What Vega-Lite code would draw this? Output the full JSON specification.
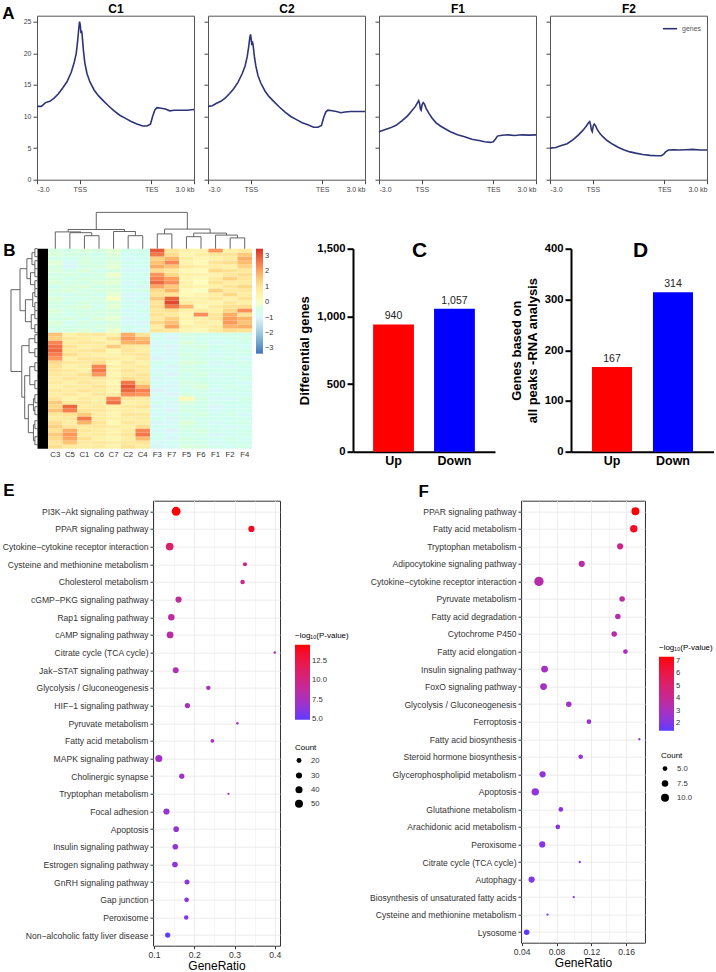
{
"$schema": "https://vega.github.io/schema/vega-lite/v6.json",
"padding": {"left": 0, "top": 1.7, "right": 0, "bottom": 0},
"config": {"font": "Liberation Sans", "view": {"stroke": null}},
"datasets": {
"prof": [
{"s":"C1","x":0,"y":11.6},{"s":"C1","x":3,"y":11.6},{"s":"C1","x":6,"y":12.2},{"s":"C1","x":9,"y":12.4},{"s":"C1","x":12,"y":12.9},{"s":"C1","x":15,"y":13.6},{"s":"C1","x":18,"y":14.5},{"s":"C1","x":21,"y":15.5},{"s":"C1","x":24,"y":17.0},{"s":"C1","x":26,"y":18.5},{"s":"C1","x":27.5,"y":20.0},{"s":"C1","x":28.5,"y":22.0},{"s":"C1","x":29.3,"y":24.0},{"s":"C1","x":29.8,"y":25.0},{"s":"C1","x":30.3,"y":24.5},{"s":"C1","x":30.8,"y":23.2},{"s":"C1","x":31.2,"y":23.6},{"s":"C1","x":31.6,"y":23.0},{"s":"C1","x":32.5,"y":20.5},{"s":"C1","x":33.5,"y":18.5},{"s":"C1","x":35,"y":16.8},{"s":"C1","x":37,"y":15.5},{"s":"C1","x":40,"y":14.2},{"s":"C1","x":43,"y":13.3},{"s":"C1","x":46,"y":12.6},{"s":"C1","x":50,"y":11.7},{"s":"C1","x":54,"y":10.9},{"s":"C1","x":58,"y":10.2},{"s":"C1","x":62,"y":9.7},{"s":"C1","x":66,"y":9.2},{"s":"C1","x":70,"y":8.8},{"s":"C1","x":74,"y":8.5},{"s":"C1","x":77,"y":8.5},{"s":"C1","x":79.5,"y":8.8},{"s":"C1","x":81,"y":10.0},{"s":"C1","x":82.5,"y":11.0},{"s":"C1","x":84,"y":11.4},{"s":"C1","x":87,"y":11.3},{"s":"C1","x":90,"y":11.2},{"s":"C1","x":93,"y":10.9},{"s":"C1","x":96,"y":11.0},{"s":"C1","x":100,"y":11.0},{"s":"C1","x":105,"y":11.0},{"s":"C1","x":110,"y":11.1},
{"s":"C2","x":0,"y":11.6},{"s":"C2","x":3,"y":11.7},{"s":"C2","x":6,"y":12.1},{"s":"C2","x":9,"y":12.4},{"s":"C2","x":12,"y":12.9},{"s":"C2","x":15,"y":13.6},{"s":"C2","x":18,"y":14.4},{"s":"C2","x":21,"y":15.4},{"s":"C2","x":24,"y":16.8},{"s":"C2","x":26,"y":18.0},{"s":"C2","x":27.5,"y":19.5},{"s":"C2","x":28.5,"y":21.0},{"s":"C2","x":29.3,"y":22.5},{"s":"C2","x":29.8,"y":23.0},{"s":"C2","x":30.3,"y":22.2},{"s":"C2","x":30.7,"y":21.3},{"s":"C2","x":31.1,"y":21.9},{"s":"C2","x":31.6,"y":21.3},{"s":"C2","x":32.5,"y":19.5},{"s":"C2","x":33.5,"y":18.0},{"s":"C2","x":35,"y":16.5},{"s":"C2","x":37,"y":15.3},{"s":"C2","x":40,"y":14.0},{"s":"C2","x":43,"y":13.1},{"s":"C2","x":46,"y":12.4},{"s":"C2","x":50,"y":11.5},{"s":"C2","x":54,"y":10.7},{"s":"C2","x":58,"y":10.0},{"s":"C2","x":62,"y":9.5},{"s":"C2","x":66,"y":9.0},{"s":"C2","x":70,"y":8.7},{"s":"C2","x":74,"y":8.3},{"s":"C2","x":77,"y":8.3},{"s":"C2","x":79.5,"y":8.6},{"s":"C2","x":81,"y":9.8},{"s":"C2","x":82.5,"y":10.7},{"s":"C2","x":84,"y":11.0},{"s":"C2","x":87,"y":10.9},{"s":"C2","x":90,"y":10.8},{"s":"C2","x":93,"y":10.6},{"s":"C2","x":96,"y":10.7},{"s":"C2","x":100,"y":10.8},{"s":"C2","x":105,"y":10.8},{"s":"C2","x":110,"y":10.8},
{"s":"F1","x":0,"y":7.6},{"s":"F1","x":4,"y":7.9},{"s":"F1","x":8,"y":8.2},{"s":"F1","x":12,"y":8.6},{"s":"F1","x":16,"y":9.3},{"s":"F1","x":20,"y":10.1},{"s":"F1","x":23,"y":10.9},{"s":"F1","x":25.5,"y":11.6},{"s":"F1","x":27,"y":12.2},{"s":"F1","x":27.8,"y":12.5},{"s":"F1","x":28.5,"y":12.0},{"s":"F1","x":29,"y":11.2},{"s":"F1","x":29.5,"y":11.0},{"s":"F1","x":30.2,"y":11.9},{"s":"F1","x":31,"y":12.2},{"s":"F1","x":31.8,"y":12.0},{"s":"F1","x":33,"y":11.3},{"s":"F1","x":35,"y":10.5},{"s":"F1","x":37,"y":9.8},{"s":"F1","x":40,"y":9.0},{"s":"F1","x":43,"y":8.5},{"s":"F1","x":46,"y":8.1},{"s":"F1","x":50,"y":7.6},{"s":"F1","x":55,"y":7.1},{"s":"F1","x":60,"y":6.8},{"s":"F1","x":65,"y":6.4},{"s":"F1","x":70,"y":6.2},{"s":"F1","x":74,"y":6.0},{"s":"F1","x":78,"y":5.9},{"s":"F1","x":80,"y":6.0},{"s":"F1","x":81.5,"y":6.4},{"s":"F1","x":83,"y":6.9},{"s":"F1","x":85,"y":7.0},{"s":"F1","x":90,"y":7.1},{"s":"F1","x":95,"y":7.0},{"s":"F1","x":100,"y":7.1},{"s":"F1","x":105,"y":7.05},{"s":"F1","x":110,"y":7.1},
{"s":"F2","x":0,"y":5.0},{"s":"F2","x":4,"y":5.1},{"s":"F2","x":8,"y":5.4},{"s":"F2","x":12,"y":5.7},{"s":"F2","x":16,"y":6.3},{"s":"F2","x":20,"y":7.1},{"s":"F2","x":23,"y":7.8},{"s":"F2","x":25.5,"y":8.5},{"s":"F2","x":27,"y":9.0},{"s":"F2","x":27.8,"y":9.2},{"s":"F2","x":28.5,"y":8.6},{"s":"F2","x":29,"y":7.9},{"s":"F2","x":29.6,"y":7.6},{"s":"F2","x":30.3,"y":8.5},{"s":"F2","x":31,"y":8.8},{"s":"F2","x":31.8,"y":8.6},{"s":"F2","x":33,"y":8.0},{"s":"F2","x":35,"y":7.3},{"s":"F2","x":37,"y":6.8},{"s":"F2","x":40,"y":6.2},{"s":"F2","x":44,"y":5.6},{"s":"F2","x":48,"y":5.1},{"s":"F2","x":52,"y":4.7},{"s":"F2","x":56,"y":4.4},{"s":"F2","x":60,"y":4.2},{"s":"F2","x":65,"y":4.0},{"s":"F2","x":70,"y":3.85},{"s":"F2","x":75,"y":3.8},{"s":"F2","x":78,"y":3.8},{"s":"F2","x":79.5,"y":4.0},{"s":"F2","x":81,"y":4.4},{"s":"F2","x":83,"y":4.7},{"s":"F2","x":87,"y":4.75},{"s":"F2","x":90,"y":4.7},{"s":"F2","x":95,"y":4.75},{"s":"F2","x":100,"y":4.8},{"s":"F2","x":105,"y":4.7},{"s":"F2","x":110,"y":4.7}
],
"heat": [
{"r":0,"c":"C3","v":-0.4},{"r":0,"c":"C5","v":-0.5},{"r":0,"c":"C1","v":-0.3},{"r":0,"c":"C6","v":-0.4},{"r":0,"c":"C7","v":-0.2},{"r":0,"c":"C2","v":-0.6},{"r":0,"c":"C4","v":-0.5},{"r":0,"c":"F3","v":3.0},{"r":0,"c":"F7","v":1.0},{"r":0,"c":"F5","v":0.6},{"r":0,"c":"F6","v":0.5},{"r":0,"c":"F1","v":2.2},{"r":0,"c":"F2","v":0.6},{"r":0,"c":"F4","v":0.8},
{"r":1,"c":"C3","v":-0.3},{"r":1,"c":"C5","v":-0.4},{"r":1,"c":"C1","v":-0.5},{"r":1,"c":"C6","v":-0.6},{"r":1,"c":"C7","v":-0.3},{"r":1,"c":"C2","v":-0.7},{"r":1,"c":"C4","v":-0.6},{"r":1,"c":"F3","v":2.6},{"r":1,"c":"F7","v":1.2},{"r":1,"c":"F5","v":0.4},{"r":1,"c":"F6","v":0.7},{"r":1,"c":"F1","v":0.9},{"r":1,"c":"F2","v":1.0},{"r":1,"c":"F4","v":1.5},
{"r":2,"c":"C3","v":-0.5},{"r":2,"c":"C5","v":-0.6},{"r":2,"c":"C1","v":-0.4},{"r":2,"c":"C6","v":-0.5},{"r":2,"c":"C7","v":-0.4},{"r":2,"c":"C2","v":-0.8},{"r":2,"c":"C4","v":-0.7},{"r":2,"c":"F3","v":1.4},{"r":2,"c":"F7","v":1.8},{"r":2,"c":"F5","v":0.7},{"r":2,"c":"F6","v":0.4},{"r":2,"c":"F1","v":0.6},{"r":2,"c":"F2","v":0.8},{"r":2,"c":"F4","v":1.9},
{"r":3,"c":"C3","v":-0.2},{"r":3,"c":"C5","v":-0.8},{"r":3,"c":"C1","v":-0.4},{"r":3,"c":"C6","v":-0.5},{"r":3,"c":"C7","v":-0.3},{"r":3,"c":"C2","v":-0.6},{"r":3,"c":"C4","v":-0.6},{"r":3,"c":"F3","v":1.6},{"r":3,"c":"F7","v":2.4},{"r":3,"c":"F5","v":0.5},{"r":3,"c":"F6","v":0.3},{"r":3,"c":"F1","v":1.0},{"r":3,"c":"F2","v":1.2},{"r":3,"c":"F4","v":1.7},
{"r":4,"c":"C3","v":-0.4},{"r":4,"c":"C5","v":-0.9},{"r":4,"c":"C1","v":-0.5},{"r":4,"c":"C6","v":-0.4},{"r":4,"c":"C7","v":-0.2},{"r":4,"c":"C2","v":-0.7},{"r":4,"c":"C4","v":-0.7},{"r":4,"c":"F3","v":1.9},{"r":4,"c":"F7","v":1.6},{"r":4,"c":"F5","v":0.8},{"r":4,"c":"F6","v":0.6},{"r":4,"c":"F1","v":0.7},{"r":4,"c":"F2","v":0.6},{"r":4,"c":"F4","v":1.4},
{"r":5,"c":"C3","v":-0.3},{"r":5,"c":"C5","v":-0.5},{"r":5,"c":"C1","v":-0.3},{"r":5,"c":"C6","v":-0.6},{"r":5,"c":"C7","v":-0.4},{"r":5,"c":"C2","v":-0.9},{"r":5,"c":"C4","v":-0.8},{"r":5,"c":"F3","v":1.2},{"r":5,"c":"F7","v":0.9},{"r":5,"c":"F5","v":0.3},{"r":5,"c":"F6","v":0.2},{"r":5,"c":"F1","v":1.3},{"r":5,"c":"F2","v":1.1},{"r":5,"c":"F4","v":0.9},
{"r":6,"c":"C3","v":-0.5},{"r":6,"c":"C5","v":-0.4},{"r":6,"c":"C1","v":-0.6},{"r":6,"c":"C6","v":-0.4},{"r":6,"c":"C7","v":-0.1},{"r":6,"c":"C2","v":-0.7},{"r":6,"c":"C4","v":-0.6},{"r":6,"c":"F3","v":2.2},{"r":6,"c":"F7","v":1.3},{"r":6,"c":"F5","v":0.6},{"r":6,"c":"F6","v":0.5},{"r":6,"c":"F1","v":0.5},{"r":6,"c":"F2","v":0.9},{"r":6,"c":"F4","v":1.2},
{"r":7,"c":"C3","v":-0.4},{"r":7,"c":"C5","v":-0.6},{"r":7,"c":"C1","v":-0.4},{"r":7,"c":"C6","v":-0.5},{"r":7,"c":"C7","v":-0.3},{"r":7,"c":"C2","v":-0.6},{"r":7,"c":"C4","v":-0.7},{"r":7,"c":"F3","v":2.5},{"r":7,"c":"F7","v":2.1},{"r":7,"c":"F5","v":0.4},{"r":7,"c":"F6","v":0.3},{"r":7,"c":"F1","v":0.8},{"r":7,"c":"F2","v":1.4},{"r":7,"c":"F4","v":1.0},
{"r":8,"c":"C3","v":-0.3},{"r":8,"c":"C5","v":-0.5},{"r":8,"c":"C1","v":-0.5},{"r":8,"c":"C6","v":-0.3},{"r":8,"c":"C7","v":-0.2},{"r":8,"c":"C2","v":-0.8},{"r":8,"c":"C4","v":-0.6},{"r":8,"c":"F3","v":2.8},{"r":8,"c":"F7","v":2.3},{"r":8,"c":"F5","v":0.5},{"r":8,"c":"F6","v":0.1},{"r":8,"c":"F1","v":1.1},{"r":8,"c":"F2","v":0.7},{"r":8,"c":"F4","v":0.8},
{"r":9,"c":"C3","v":-0.6},{"r":9,"c":"C5","v":-0.4},{"r":9,"c":"C1","v":-0.3},{"r":9,"c":"C6","v":-0.5},{"r":9,"c":"C7","v":-0.4},{"r":9,"c":"C2","v":-0.7},{"r":9,"c":"C4","v":-0.9},{"r":9,"c":"F3","v":2.0},{"r":9,"c":"F7","v":1.5},{"r":9,"c":"F5","v":0.6},{"r":9,"c":"F6","v":0.4},{"r":9,"c":"F1","v":0.6},{"r":9,"c":"F2","v":1.0},{"r":9,"c":"F4","v":1.3},
{"r":10,"c":"C3","v":-0.4},{"r":10,"c":"C5","v":-0.3},{"r":10,"c":"C1","v":-0.5},{"r":10,"c":"C6","v":-0.4},{"r":10,"c":"C7","v":-0.3},{"r":10,"c":"C2","v":-0.6},{"r":10,"c":"C4","v":-0.5},{"r":10,"c":"F3","v":1.3},{"r":10,"c":"F7","v":1.8},{"r":10,"c":"F5","v":0.2},{"r":10,"c":"F6","v":0.0},{"r":10,"c":"F1","v":1.4},{"r":10,"c":"F2","v":0.8},{"r":10,"c":"F4","v":0.9},
{"r":11,"c":"C3","v":-0.5},{"r":11,"c":"C5","v":-0.7},{"r":11,"c":"C1","v":-0.4},{"r":11,"c":"C6","v":-0.6},{"r":11,"c":"C7","v":-0.2},{"r":11,"c":"C2","v":-0.9},{"r":11,"c":"C4","v":-0.8},{"r":11,"c":"F3","v":1.1},{"r":11,"c":"F7","v":1.0},{"r":11,"c":"F5","v":0.3},{"r":11,"c":"F6","v":0.4},{"r":11,"c":"F1","v":0.7},{"r":11,"c":"F2","v":1.3},{"r":11,"c":"F4","v":0.7},
{"r":12,"c":"C3","v":-0.3},{"r":12,"c":"C5","v":-0.5},{"r":12,"c":"C1","v":-0.6},{"r":12,"c":"C6","v":-0.4},{"r":12,"c":"C7","v":0.0},{"r":12,"c":"C2","v":-0.8},{"r":12,"c":"C4","v":-0.7},{"r":12,"c":"F3","v":1.5},{"r":12,"c":"F7","v":2.9},{"r":12,"c":"F5","v":0.5},{"r":12,"c":"F6","v":0.6},{"r":12,"c":"F1","v":0.9},{"r":12,"c":"F2","v":0.6},{"r":12,"c":"F4","v":1.1},
{"r":13,"c":"C3","v":-0.4},{"r":13,"c":"C5","v":-0.6},{"r":13,"c":"C1","v":-0.4},{"r":13,"c":"C6","v":-0.5},{"r":13,"c":"C7","v":-0.3},{"r":13,"c":"C2","v":-0.7},{"r":13,"c":"C4","v":-0.9},{"r":13,"c":"F3","v":1.0},{"r":13,"c":"F7","v":3.2},{"r":13,"c":"F5","v":0.7},{"r":13,"c":"F6","v":0.5},{"r":13,"c":"F1","v":0.4},{"r":13,"c":"F2","v":0.9},{"r":13,"c":"F4","v":0.6},
{"r":14,"c":"C3","v":-0.5},{"r":14,"c":"C5","v":-0.4},{"r":14,"c":"C1","v":-0.3},{"r":14,"c":"C6","v":-0.6},{"r":14,"c":"C7","v":-0.2},{"r":14,"c":"C2","v":-0.6},{"r":14,"c":"C4","v":-0.7},{"r":14,"c":"F3","v":1.2},{"r":14,"c":"F7","v":2.6},{"r":14,"c":"F5","v":1.8},{"r":14,"c":"F6","v":0.3},{"r":14,"c":"F1","v":0.8},{"r":14,"c":"F2","v":1.1},{"r":14,"c":"F4","v":1.2},
{"r":15,"c":"C3","v":-0.3},{"r":15,"c":"C5","v":-0.5},{"r":15,"c":"C1","v":-0.5},{"r":15,"c":"C6","v":-0.4},{"r":15,"c":"C7","v":-0.4},{"r":15,"c":"C2","v":-0.8},{"r":15,"c":"C4","v":-0.6},{"r":15,"c":"F3","v":0.9},{"r":15,"c":"F7","v":1.2},{"r":15,"c":"F5","v":0.6},{"r":15,"c":"F6","v":0.8},{"r":15,"c":"F1","v":0.6},{"r":15,"c":"F2","v":1.3},{"r":15,"c":"F4","v":2.3},
{"r":16,"c":"C3","v":-0.4},{"r":16,"c":"C5","v":-0.6},{"r":16,"c":"C1","v":-0.4},{"r":16,"c":"C6","v":-0.5},{"r":16,"c":"C7","v":-0.3},{"r":16,"c":"C2","v":-0.7},{"r":16,"c":"C4","v":-0.8},{"r":16,"c":"F3","v":1.1},{"r":16,"c":"F7","v":0.8},{"r":16,"c":"F5","v":0.4},{"r":16,"c":"F6","v":2.3},{"r":16,"c":"F1","v":0.9},{"r":16,"c":"F2","v":1.9},{"r":16,"c":"F4","v":1.0},
{"r":17,"c":"C3","v":-0.5},{"r":17,"c":"C5","v":-0.4},{"r":17,"c":"C1","v":-0.6},{"r":17,"c":"C6","v":-0.3},{"r":17,"c":"C7","v":-0.2},{"r":17,"c":"C2","v":-0.9},{"r":17,"c":"C4","v":-0.7},{"r":17,"c":"F3","v":0.8},{"r":17,"c":"F7","v":1.4},{"r":17,"c":"F5","v":0.5},{"r":17,"c":"F6","v":0.6},{"r":17,"c":"F1","v":1.0},{"r":17,"c":"F2","v":2.1},{"r":17,"c":"F4","v":1.8},
{"r":18,"c":"C3","v":-0.3},{"r":18,"c":"C5","v":-0.7},{"r":18,"c":"C1","v":-0.4},{"r":18,"c":"C6","v":-0.6},{"r":18,"c":"C7","v":-0.4},{"r":18,"c":"C2","v":-0.8},{"r":18,"c":"C4","v":-0.9},{"r":18,"c":"F3","v":1.3},{"r":18,"c":"F7","v":1.6},{"r":18,"c":"F5","v":0.3},{"r":18,"c":"F6","v":0.7},{"r":18,"c":"F1","v":0.5},{"r":18,"c":"F2","v":2.2},{"r":18,"c":"F4","v":1.6},
{"r":19,"c":"C3","v":-0.4},{"r":19,"c":"C5","v":-0.5},{"r":19,"c":"C1","v":-0.5},{"r":19,"c":"C6","v":-0.4},{"r":19,"c":"C7","v":-0.3},{"r":19,"c":"C2","v":-0.6},{"r":19,"c":"C4","v":-0.7},{"r":19,"c":"F3","v":0.7},{"r":19,"c":"F7","v":2.0},{"r":19,"c":"F5","v":0.6},{"r":19,"c":"F6","v":0.5},{"r":19,"c":"F1","v":0.7},{"r":19,"c":"F2","v":1.8},{"r":19,"c":"F4","v":1.9},
{"r":20,"c":"C3","v":-0.6},{"r":20,"c":"C5","v":-0.4},{"r":20,"c":"C1","v":-0.3},{"r":20,"c":"C6","v":-0.5},{"r":20,"c":"C7","v":-0.1},{"r":20,"c":"C2","v":-0.7},{"r":20,"c":"C4","v":-0.8},{"r":20,"c":"F3","v":1.0},{"r":20,"c":"F7","v":0.9},{"r":20,"c":"F5","v":0.4},{"r":20,"c":"F6","v":0.3},{"r":20,"c":"F1","v":0.8},{"r":20,"c":"F2","v":1.2},{"r":20,"c":"F4","v":1.1},
{"r":21,"c":"C3","v":1.6},{"r":21,"c":"C5","v":0.6},{"r":21,"c":"C1","v":0.8},{"r":21,"c":"C6","v":0.9},{"r":21,"c":"C7","v":0.5},{"r":21,"c":"C2","v":1.9},{"r":21,"c":"C4","v":1.0},{"r":21,"c":"F3","v":-0.7},{"r":21,"c":"F7","v":-0.8},{"r":21,"c":"F5","v":-0.4},{"r":21,"c":"F6","v":-0.5},{"r":21,"c":"F1","v":-0.6},{"r":21,"c":"F2","v":-0.5},{"r":21,"c":"F4","v":-0.6},
{"r":22,"c":"C3","v":1.4},{"r":22,"c":"C5","v":0.9},{"r":22,"c":"C1","v":0.7},{"r":22,"c":"C6","v":0.6},{"r":22,"c":"C7","v":1.2},{"r":22,"c":"C2","v":2.2},{"r":22,"c":"C4","v":1.7},{"r":22,"c":"F3","v":-0.6},{"r":22,"c":"F7","v":-0.9},{"r":22,"c":"F5","v":-0.5},{"r":22,"c":"F6","v":-0.6},{"r":22,"c":"F1","v":-0.7},{"r":22,"c":"F2","v":-0.6},{"r":22,"c":"F4","v":-0.5},
{"r":23,"c":"C3","v":2.4},{"r":23,"c":"C5","v":0.7},{"r":23,"c":"C1","v":0.9},{"r":23,"c":"C6","v":0.8},{"r":23,"c":"C7","v":0.6},{"r":23,"c":"C2","v":1.8},{"r":23,"c":"C4","v":1.9},{"r":23,"c":"F3","v":-0.8},{"r":23,"c":"F7","v":-0.7},{"r":23,"c":"F5","v":-0.3},{"r":23,"c":"F6","v":-0.5},{"r":23,"c":"F1","v":-0.8},{"r":23,"c":"F2","v":-0.7},{"r":23,"c":"F4","v":-0.6},
{"r":24,"c":"C3","v":2.7},{"r":24,"c":"C5","v":1.0},{"r":24,"c":"C1","v":0.6},{"r":24,"c":"C6","v":0.7},{"r":24,"c":"C7","v":1.5},{"r":24,"c":"C2","v":0.9},{"r":24,"c":"C4","v":0.8},{"r":24,"c":"F3","v":-0.9},{"r":24,"c":"F7","v":-1.0},{"r":24,"c":"F5","v":-0.5},{"r":24,"c":"F6","v":-0.4},{"r":24,"c":"F1","v":-0.6},{"r":24,"c":"F2","v":-0.5},{"r":24,"c":"F4","v":-0.7},
{"r":25,"c":"C3","v":2.8},{"r":25,"c":"C5","v":0.8},{"r":25,"c":"C1","v":0.9},{"r":25,"c":"C6","v":1.1},{"r":25,"c":"C7","v":0.4},{"r":25,"c":"C2","v":1.0},{"r":25,"c":"C4","v":0.7},{"r":25,"c":"F3","v":-0.7},{"r":25,"c":"F7","v":-0.8},{"r":25,"c":"F5","v":-0.6},{"r":25,"c":"F6","v":-0.5},{"r":25,"c":"F1","v":-0.7},{"r":25,"c":"F2","v":-0.6},{"r":25,"c":"F4","v":-0.5},
{"r":26,"c":"C3","v":2.5},{"r":26,"c":"C5","v":1.2},{"r":26,"c":"C1","v":0.7},{"r":26,"c":"C6","v":0.6},{"r":26,"c":"C7","v":0.5},{"r":26,"c":"C2","v":0.8},{"r":26,"c":"C4","v":1.0},{"r":26,"c":"F3","v":-0.8},{"r":26,"c":"F7","v":-0.9},{"r":26,"c":"F5","v":-0.4},{"r":26,"c":"F6","v":-0.6},{"r":26,"c":"F1","v":-0.8},{"r":26,"c":"F2","v":-0.7},{"r":26,"c":"F4","v":-0.6},
{"r":27,"c":"C3","v":2.2},{"r":27,"c":"C5","v":0.6},{"r":27,"c":"C1","v":1.0},{"r":27,"c":"C6","v":0.9},{"r":27,"c":"C7","v":0.7},{"r":27,"c":"C2","v":0.6},{"r":27,"c":"C4","v":0.9},{"r":27,"c":"F3","v":-1.0},{"r":27,"c":"F7","v":-0.8},{"r":27,"c":"F5","v":-0.5},{"r":27,"c":"F6","v":-0.5},{"r":27,"c":"F1","v":-0.6},{"r":27,"c":"F2","v":-0.5},{"r":27,"c":"F4","v":-0.8},
{"r":28,"c":"C3","v":1.3},{"r":28,"c":"C5","v":0.9},{"r":28,"c":"C1","v":0.8},{"r":28,"c":"C6","v":1.2},{"r":28,"c":"C7","v":0.3},{"r":28,"c":"C2","v":0.9},{"r":28,"c":"C4","v":0.6},{"r":28,"c":"F3","v":-0.6},{"r":28,"c":"F7","v":-0.7},{"r":28,"c":"F5","v":-0.3},{"r":28,"c":"F6","v":-0.4},{"r":28,"c":"F1","v":-0.9},{"r":28,"c":"F2","v":-0.6},{"r":28,"c":"F4","v":-0.5},
{"r":29,"c":"C3","v":1.1},{"r":29,"c":"C5","v":0.5},{"r":29,"c":"C1","v":0.7},{"r":29,"c":"C6","v":2.4},{"r":29,"c":"C7","v":0.6},{"r":29,"c":"C2","v":0.7},{"r":29,"c":"C4","v":0.8},{"r":29,"c":"F3","v":-0.7},{"r":29,"c":"F7","v":-0.9},{"r":29,"c":"F5","v":-0.5},{"r":29,"c":"F6","v":-0.6},{"r":29,"c":"F1","v":-0.7},{"r":29,"c":"F2","v":-0.8},{"r":29,"c":"F4","v":-0.6},
{"r":30,"c":"C3","v":1.0},{"r":30,"c":"C5","v":0.8},{"r":30,"c":"C1","v":0.6},{"r":30,"c":"C6","v":2.6},{"r":30,"c":"C7","v":0.5},{"r":30,"c":"C2","v":1.0},{"r":30,"c":"C4","v":0.7},{"r":30,"c":"F3","v":-0.8},{"r":30,"c":"F7","v":-0.8},{"r":30,"c":"F5","v":-0.4},{"r":30,"c":"F6","v":-0.5},{"r":30,"c":"F1","v":-0.6},{"r":30,"c":"F2","v":-0.6},{"r":30,"c":"F4","v":-0.7},
{"r":31,"c":"C3","v":0.9},{"r":31,"c":"C5","v":0.7},{"r":31,"c":"C1","v":1.1},{"r":31,"c":"C6","v":2.2},{"r":31,"c":"C7","v":0.4},{"r":31,"c":"C2","v":0.8},{"r":31,"c":"C4","v":1.0},{"r":31,"c":"F3","v":-0.6},{"r":31,"c":"F7","v":-1.0},{"r":31,"c":"F5","v":-0.6},{"r":31,"c":"F6","v":-0.4},{"r":31,"c":"F1","v":-0.8},{"r":31,"c":"F2","v":-0.5},{"r":31,"c":"F4","v":-0.6},
{"r":32,"c":"C3","v":0.7},{"r":32,"c":"C5","v":1.0},{"r":32,"c":"C1","v":0.8},{"r":32,"c":"C6","v":0.9},{"r":32,"c":"C7","v":0.6},{"r":32,"c":"C2","v":1.2},{"r":32,"c":"C4","v":0.9},{"r":32,"c":"F3","v":-0.9},{"r":32,"c":"F7","v":-0.7},{"r":32,"c":"F5","v":-0.5},{"r":32,"c":"F6","v":-0.6},{"r":32,"c":"F1","v":-0.7},{"r":32,"c":"F2","v":-0.7},{"r":32,"c":"F4","v":-0.5},
{"r":33,"c":"C3","v":0.8},{"r":33,"c":"C5","v":0.6},{"r":33,"c":"C1","v":0.9},{"r":33,"c":"C6","v":0.7},{"r":33,"c":"C7","v":0.3},{"r":33,"c":"C2","v":2.6},{"r":33,"c":"C4","v":1.1},{"r":33,"c":"F3","v":-0.7},{"r":33,"c":"F7","v":-0.8},{"r":33,"c":"F5","v":-0.4},{"r":33,"c":"F6","v":-0.5},{"r":33,"c":"F1","v":-0.6},{"r":33,"c":"F2","v":-0.6},{"r":33,"c":"F4","v":-0.8},
{"r":34,"c":"C3","v":0.6},{"r":34,"c":"C5","v":0.8},{"r":34,"c":"C1","v":0.7},{"r":34,"c":"C6","v":1.0},{"r":34,"c":"C7","v":0.5},{"r":34,"c":"C2","v":3.0},{"r":34,"c":"C4","v":1.8},{"r":34,"c":"F3","v":-0.8},{"r":34,"c":"F7","v":-0.9},{"r":34,"c":"F5","v":-0.5},{"r":34,"c":"F6","v":-0.3},{"r":34,"c":"F1","v":-0.7},{"r":34,"c":"F2","v":-0.5},{"r":34,"c":"F4","v":-0.6},
{"r":35,"c":"C3","v":0.9},{"r":35,"c":"C5","v":0.7},{"r":35,"c":"C1","v":1.0},{"r":35,"c":"C6","v":0.8},{"r":35,"c":"C7","v":0.4},{"r":35,"c":"C2","v":2.8},{"r":35,"c":"C4","v":2.5},{"r":35,"c":"F3","v":-1.1},{"r":35,"c":"F7","v":-0.8},{"r":35,"c":"F5","v":-0.6},{"r":35,"c":"F6","v":-0.5},{"r":35,"c":"F1","v":-0.8},{"r":35,"c":"F2","v":-0.7},{"r":35,"c":"F4","v":-0.6},
{"r":36,"c":"C3","v":0.7},{"r":36,"c":"C5","v":0.9},{"r":36,"c":"C1","v":0.6},{"r":36,"c":"C6","v":0.9},{"r":36,"c":"C7","v":0.7},{"r":36,"c":"C2","v":2.3},{"r":36,"c":"C4","v":2.2},{"r":36,"c":"F3","v":-0.7},{"r":36,"c":"F7","v":-1.0},{"r":36,"c":"F5","v":-0.4},{"r":36,"c":"F6","v":-0.6},{"r":36,"c":"F1","v":-0.6},{"r":36,"c":"F2","v":-0.6},{"r":36,"c":"F4","v":-0.7},
{"r":37,"c":"C3","v":1.0},{"r":37,"c":"C5","v":0.5},{"r":37,"c":"C1","v":0.8},{"r":37,"c":"C6","v":0.6},{"r":37,"c":"C7","v":2.4},{"r":37,"c":"C2","v":0.9},{"r":37,"c":"C4","v":0.8},{"r":37,"c":"F3","v":-0.8},{"r":37,"c":"F7","v":-0.7},{"r":37,"c":"F5","v":0.3},{"r":37,"c":"F6","v":-0.4},{"r":37,"c":"F1","v":-0.9},{"r":37,"c":"F2","v":-0.8},{"r":37,"c":"F4","v":-0.5},
{"r":38,"c":"C3","v":1.5},{"r":38,"c":"C5","v":0.8},{"r":38,"c":"C1","v":0.9},{"r":38,"c":"C6","v":0.7},{"r":38,"c":"C7","v":2.7},{"r":38,"c":"C2","v":0.6},{"r":38,"c":"C4","v":0.7},{"r":38,"c":"F3","v":-0.6},{"r":38,"c":"F7","v":-0.9},{"r":38,"c":"F5","v":-0.3},{"r":38,"c":"F6","v":-0.5},{"r":38,"c":"F1","v":-0.7},{"r":38,"c":"F2","v":-0.6},{"r":38,"c":"F4","v":-0.6},
{"r":39,"c":"C3","v":1.3},{"r":39,"c":"C5","v":2.8},{"r":39,"c":"C1","v":0.7},{"r":39,"c":"C6","v":0.8},{"r":39,"c":"C7","v":0.6},{"r":39,"c":"C2","v":0.8},{"r":39,"c":"C4","v":1.0},{"r":39,"c":"F3","v":-0.9},{"r":39,"c":"F7","v":-0.8},{"r":39,"c":"F5","v":-0.5},{"r":39,"c":"F6","v":-0.6},{"r":39,"c":"F1","v":-1.0},{"r":39,"c":"F2","v":-0.7},{"r":39,"c":"F4","v":-0.7},
{"r":40,"c":"C3","v":1.6},{"r":40,"c":"C5","v":2.5},{"r":40,"c":"C1","v":1.0},{"r":40,"c":"C6","v":0.9},{"r":40,"c":"C7","v":0.5},{"r":40,"c":"C2","v":0.7},{"r":40,"c":"C4","v":0.6},{"r":40,"c":"F3","v":-0.7},{"r":40,"c":"F7","v":-1.0},{"r":40,"c":"F5","v":-0.4},{"r":40,"c":"F6","v":-0.5},{"r":40,"c":"F1","v":-0.8},{"r":40,"c":"F2","v":-0.6},{"r":40,"c":"F4","v":-0.6},
{"r":41,"c":"C3","v":0.9},{"r":41,"c":"C5","v":1.1},{"r":41,"c":"C1","v":1.5},{"r":41,"c":"C6","v":0.7},{"r":41,"c":"C7","v":0.4},{"r":41,"c":"C2","v":1.0},{"r":41,"c":"C4","v":0.9},{"r":41,"c":"F3","v":-0.8},{"r":41,"c":"F7","v":-0.7},{"r":41,"c":"F5","v":-0.6},{"r":41,"c":"F6","v":-0.4},{"r":41,"c":"F1","v":-0.7},{"r":41,"c":"F2","v":-0.5},{"r":41,"c":"F4","v":-0.8},
{"r":42,"c":"C3","v":0.8},{"r":42,"c":"C5","v":0.9},{"r":42,"c":"C1","v":2.6},{"r":42,"c":"C6","v":0.8},{"r":42,"c":"C7","v":0.6},{"r":42,"c":"C2","v":0.7},{"r":42,"c":"C4","v":0.8},{"r":42,"c":"F3","v":-0.6},{"r":42,"c":"F7","v":-0.9},{"r":42,"c":"F5","v":-0.5},{"r":42,"c":"F6","v":-0.6},{"r":42,"c":"F1","v":-0.6},{"r":42,"c":"F2","v":-0.7},{"r":42,"c":"F4","v":-0.6},
{"r":43,"c":"C3","v":1.2},{"r":43,"c":"C5","v":0.7},{"r":43,"c":"C1","v":1.8},{"r":43,"c":"C6","v":1.0},{"r":43,"c":"C7","v":0.3},{"r":43,"c":"C2","v":0.9},{"r":43,"c":"C4","v":0.7},{"r":43,"c":"F3","v":-0.9},{"r":43,"c":"F7","v":-0.8},{"r":43,"c":"F5","v":-0.3},{"r":43,"c":"F6","v":-0.5},{"r":43,"c":"F1","v":-0.8},{"r":43,"c":"F2","v":-0.6},{"r":43,"c":"F4","v":-0.5},
{"r":44,"c":"C3","v":1.4},{"r":44,"c":"C5","v":1.0},{"r":44,"c":"C1","v":0.8},{"r":44,"c":"C6","v":0.9},{"r":44,"c":"C7","v":0.7},{"r":44,"c":"C2","v":0.6},{"r":44,"c":"C4","v":1.2},{"r":44,"c":"F3","v":-0.7},{"r":44,"c":"F7","v":-0.7},{"r":44,"c":"F5","v":-0.4},{"r":44,"c":"F6","v":-0.6},{"r":44,"c":"F1","v":-0.7},{"r":44,"c":"F2","v":-0.8},{"r":44,"c":"F4","v":-0.7},
{"r":45,"c":"C3","v":1.1},{"r":45,"c":"C5","v":1.9},{"r":45,"c":"C1","v":0.9},{"r":45,"c":"C6","v":0.7},{"r":45,"c":"C7","v":0.5},{"r":45,"c":"C2","v":0.8},{"r":45,"c":"C4","v":2.4},{"r":45,"c":"F3","v":-0.8},{"r":45,"c":"F7","v":-1.0},{"r":45,"c":"F5","v":-0.5},{"r":45,"c":"F6","v":-0.4},{"r":45,"c":"F1","v":-0.6},{"r":45,"c":"F2","v":-0.6},{"r":45,"c":"F4","v":-0.6},
{"r":46,"c":"C3","v":1.5},{"r":46,"c":"C5","v":2.2},{"r":46,"c":"C1","v":0.7},{"r":46,"c":"C6","v":0.8},{"r":46,"c":"C7","v":0.6},{"r":46,"c":"C2","v":1.0},{"r":46,"c":"C4","v":2.6},{"r":46,"c":"F3","v":-0.6},{"r":46,"c":"F7","v":-0.8},{"r":46,"c":"F5","v":-0.6},{"r":46,"c":"F6","v":-0.5},{"r":46,"c":"F1","v":-0.9},{"r":46,"c":"F2","v":-0.7},{"r":46,"c":"F4","v":-0.5},
{"r":47,"c":"C3","v":1.3},{"r":47,"c":"C5","v":2.0},{"r":47,"c":"C1","v":1.1},{"r":47,"c":"C6","v":0.6},{"r":47,"c":"C7","v":0.4},{"r":47,"c":"C2","v":0.7},{"r":47,"c":"C4","v":1.7},{"r":47,"c":"F3","v":-0.7},{"r":47,"c":"F7","v":-0.9},{"r":47,"c":"F5","v":-0.4},{"r":47,"c":"F6","v":-0.6},{"r":47,"c":"F1","v":-0.7},{"r":47,"c":"F2","v":-0.5},{"r":47,"c":"F4","v":-0.7},
{"r":48,"c":"C3","v":1.0},{"r":48,"c":"C5","v":1.6},{"r":48,"c":"C1","v":0.8},{"r":48,"c":"C6","v":0.9},{"r":48,"c":"C7","v":0.7},{"r":48,"c":"C2","v":0.9},{"r":48,"c":"C4","v":1.0},{"r":48,"c":"F3","v":-0.8},{"r":48,"c":"F7","v":-0.7},{"r":48,"c":"F5","v":-0.5},{"r":48,"c":"F6","v":-0.5},{"r":48,"c":"F1","v":-0.8},{"r":48,"c":"F2","v":-0.6},{"r":48,"c":"F4","v":-0.6},
{"r":49,"c":"C3","v":1.2},{"r":49,"c":"C5","v":0.8},{"r":49,"c":"C1","v":0.7},{"r":49,"c":"C6","v":0.8},{"r":49,"c":"C7","v":0.5},{"r":49,"c":"C2","v":1.1},{"r":49,"c":"C4","v":0.8},{"r":49,"c":"F3","v":-0.9},{"r":49,"c":"F7","v":-0.8},{"r":49,"c":"F5","v":-0.3},{"r":49,"c":"F6","v":-0.4},{"r":49,"c":"F1","v":-0.6},{"r":49,"c":"F2","v":-0.7},{"r":49,"c":"F4","v":-0.5}
],
"dend": [
{"x":2.5,"x2":3.5,"y":53.25,"y2":53.25},{"x":1.5,"x2":3.0,"y":54.0,"y2":54.0},{"x":0.5,"x2":2.25,"y":54.2,"y2":54.2},{"x":5.5,"x2":6.5,"y":53.25,"y2":53.25},{"x":4.5,"x2":6.0,"y":54.3,"y2":54.3},{"x":1.375,"x2":5.25,"y":54.8,"y2":54.8},{"x":7.5,"x2":8.5,"y":53.7,"y2":53.7},{"x":9.5,"x2":10.5,"y":53.0,"y2":53.0},{"x":12.5,"x2":13.5,"y":52.7,"y2":52.7},{"x":11.5,"x2":13.0,"y":53.4,"y2":53.4},{"x":10.0,"x2":12.25,"y":53.9,"y2":53.9},{"x":8.0,"x2":11.125,"y":54.9,"y2":54.9},{"x":3.3125,"x2":9.5625,"y":59.08,"y2":59.08},
{"x":0.5,"x2":0.5,"y":50,"y2":54.2},{"x":1.5,"x2":1.5,"y":50,"y2":54.0},{"x":2.5,"x2":2.5,"y":50,"y2":53.25},{"x":3.5,"x2":3.5,"y":50,"y2":53.25},{"x":4.5,"x2":4.5,"y":50,"y2":54.3},{"x":5.5,"x2":5.5,"y":50,"y2":53.25},{"x":6.5,"x2":6.5,"y":50,"y2":53.25},{"x":7.5,"x2":7.5,"y":50,"y2":53.7},{"x":8.5,"x2":8.5,"y":50,"y2":53.7},{"x":9.5,"x2":9.5,"y":50,"y2":53.0},{"x":10.5,"x2":10.5,"y":50,"y2":53.0},{"x":11.5,"x2":11.5,"y":50,"y2":53.4},{"x":12.5,"x2":12.5,"y":50,"y2":52.7},{"x":13.5,"x2":13.5,"y":50,"y2":52.7},
{"x":3.0,"x2":3.0,"y":53.25,"y2":54.0},{"x":2.25,"x2":2.25,"y":54.0,"y2":54.2},{"x":1.375,"x2":1.375,"y":54.2,"y2":54.8},{"x":6.0,"x2":6.0,"y":53.25,"y2":54.3},{"x":5.25,"x2":5.25,"y":54.3,"y2":54.8},{"x":3.3125,"x2":3.3125,"y":54.8,"y2":59.08},{"x":8.0,"x2":8.0,"y":53.7,"y2":54.9},{"x":10.0,"x2":10.0,"y":53.0,"y2":53.9},{"x":13.0,"x2":13.0,"y":52.7,"y2":53.4},{"x":12.25,"x2":12.25,"y":53.4,"y2":53.9},{"x":11.125,"x2":11.125,"y":53.9,"y2":54.9},{"x":9.5625,"x2":9.5625,"y":54.9,"y2":59.08},
{"x":-2.54,"x2":-2.54,"y":39.75,"y2":19.31},{"x":-2.54,"x2":-1.92,"y":39.75,"y2":39.75},{"x":-2.54,"x2":-1.8,"y":19.31,"y2":19.31},
{"x":-1.92,"x2":-1.92,"y":45,"y2":34.5},{"x":-1.92,"x2":-1.45,"y":45,"y2":45},{"x":-1.92,"x2":-1.55,"y":34.5,"y2":34.5},
{"x":-1.45,"x2":-1.45,"y":47.5,"y2":42.5},{"x":-1.45,"x2":-1.1,"y":47.5,"y2":47.5},{"x":-1.45,"x2":-1.2,"y":42.5,"y2":42.5},
{"x":-1.55,"x2":-1.55,"y":37.25,"y2":31.75},{"x":-1.55,"x2":-1.05,"y":37.25,"y2":37.25},{"x":-1.55,"x2":-1.15,"y":31.75,"y2":31.75},
{"x":-1.1,"x2":-1.1,"y":49,"y2":46},{"x":-1.1,"x2":-0.9,"y":49,"y2":49},{"x":-1.1,"x2":-0.9,"y":46,"y2":46},
{"x":-1.2,"x2":-1.2,"y":44,"y2":41},{"x":-1.2,"x2":-0.9,"y":44,"y2":44},{"x":-1.2,"x2":-0.9,"y":41,"y2":41},
{"x":-1.05,"x2":-1.05,"y":39,"y2":35.5},{"x":-1.05,"x2":-0.9,"y":39,"y2":39},{"x":-1.05,"x2":-0.9,"y":35.5,"y2":35.5},
{"x":-1.15,"x2":-1.15,"y":33.5,"y2":30},{"x":-1.15,"x2":-0.9,"y":33.5,"y2":33.5},{"x":-1.15,"x2":-0.9,"y":30,"y2":30},
{"x":-1.8,"x2":-1.8,"y":25.75,"y2":12.875},{"x":-1.8,"x2":-1.3,"y":25.75,"y2":25.75},{"x":-1.8,"x2":-1.6,"y":12.875,"y2":12.875},
{"x":-1.3,"x2":-1.3,"y":27.5,"y2":24},{"x":-1.3,"x2":-0.9,"y":27.5,"y2":27.5},{"x":-1.3,"x2":-0.9,"y":24,"y2":24},
{"x":-1.6,"x2":-1.6,"y":18.25,"y2":7.5},{"x":-1.6,"x2":-1.25,"y":18.25,"y2":18.25},{"x":-1.6,"x2":-1.35,"y":7.5,"y2":7.5},
{"x":-1.25,"x2":-1.25,"y":20.5,"y2":16},{"x":-1.25,"x2":-0.9,"y":20.5,"y2":20.5},{"x":-1.25,"x2":-0.9,"y":16,"y2":16},
{"x":-1.35,"x2":-1.35,"y":11,"y2":4},{"x":-1.35,"x2":-1.0,"y":11,"y2":11},{"x":-1.35,"x2":-1.0,"y":4,"y2":4},
{"x":-1.0,"x2":-1.0,"y":12.5,"y2":9.5},{"x":-1.0,"x2":-0.9,"y":12.5,"y2":12.5},{"x":-1.0,"x2":-0.9,"y":9.5,"y2":9.5},
{"x":-1.0,"x2":-1.0,"y":6,"y2":2},{"x":-1.0,"x2":-0.9,"y":6,"y2":6},{"x":-1.0,"x2":-0.9,"y":2,"y2":2},
{"x":-0.9,"x2":-0.9,"y":50,"y2":48},{"x":-0.9,"x2":-0.72,"y":50,"y2":50},{"x":-0.9,"x2":-0.72,"y":48,"y2":48},
{"x":-0.9,"x2":-0.9,"y":47,"y2":45},{"x":-0.9,"x2":-0.72,"y":47,"y2":47},{"x":-0.9,"x2":-0.72,"y":45,"y2":45},
{"x":-0.9,"x2":-0.9,"y":45,"y2":43},{"x":-0.9,"x2":-0.72,"y":43,"y2":43},
{"x":-0.9,"x2":-0.9,"y":42,"y2":40},{"x":-0.9,"x2":-0.72,"y":42,"y2":42},{"x":-0.9,"x2":-0.72,"y":40,"y2":40},
{"x":-0.9,"x2":-0.9,"y":40,"y2":38},{"x":-0.9,"x2":-0.72,"y":38,"y2":38},
{"x":-0.9,"x2":-0.9,"y":36.5,"y2":34.5},{"x":-0.9,"x2":-0.72,"y":36.5,"y2":36.5},{"x":-0.9,"x2":-0.72,"y":34.5,"y2":34.5},
{"x":-0.9,"x2":-0.9,"y":34.5,"y2":32.5},{"x":-0.9,"x2":-0.72,"y":32.5,"y2":32.5},
{"x":-0.9,"x2":-0.9,"y":31,"y2":29},{"x":-0.9,"x2":-0.72,"y":31,"y2":31},{"x":-0.9,"x2":-0.72,"y":29,"y2":29},
{"x":-0.9,"x2":-0.9,"y":28.5,"y2":26.5},{"x":-0.9,"x2":-0.72,"y":28.5,"y2":28.5},{"x":-0.9,"x2":-0.72,"y":26.5,"y2":26.5},
{"x":-0.9,"x2":-0.9,"y":25,"y2":23},{"x":-0.9,"x2":-0.72,"y":25,"y2":25},{"x":-0.9,"x2":-0.72,"y":23,"y2":23},
{"x":-0.9,"x2":-0.9,"y":21.5,"y2":19.5},{"x":-0.9,"x2":-0.72,"y":21.5,"y2":21.5},{"x":-0.9,"x2":-0.72,"y":19.5,"y2":19.5},
{"x":-0.9,"x2":-0.9,"y":17,"y2":15},{"x":-0.9,"x2":-0.72,"y":17,"y2":17},{"x":-0.9,"x2":-0.72,"y":15,"y2":15},
{"x":-0.9,"x2":-0.9,"y":13.5,"y2":11.5},{"x":-0.9,"x2":-0.72,"y":13.5,"y2":13.5},{"x":-0.9,"x2":-0.72,"y":11.5,"y2":11.5},
{"x":-0.9,"x2":-0.9,"y":10.5,"y2":8.5},{"x":-0.9,"x2":-0.72,"y":10.5,"y2":10.5},{"x":-0.9,"x2":-0.72,"y":8.5,"y2":8.5},
{"x":-0.9,"x2":-0.9,"y":7,"y2":5},{"x":-0.9,"x2":-0.72,"y":7,"y2":7},{"x":-0.9,"x2":-0.72,"y":5,"y2":5},
{"x":-0.9,"x2":-0.9,"y":3,"y2":1},{"x":-0.9,"x2":-0.72,"y":3,"y2":3},{"x":-0.9,"x2":-0.72,"y":1,"y2":1}
],
"kegE": [
{"t":"PI3K−Akt signaling pathway","gr":0.155,"cnt":61,"p":14.6},
{"t":"PPAR signaling pathway","gr":0.342,"cnt":31,"p":14.0},
{"t":"Cytokine−cytokine receptor interaction","gr":0.139,"cnt":47,"p":11.0},
{"t":"Cysteine and methionine metabolism","gr":0.326,"cnt":15,"p":9.8},
{"t":"Cholesterol metabolism","gr":0.320,"cnt":17,"p":9.6},
{"t":"cGMP−PKG signaling pathway","gr":0.161,"cnt":31,"p":8.8},
{"t":"Rap1 signaling pathway","gr":0.143,"cnt":34,"p":8.6},
{"t":"cAMP signaling pathway","gr":0.140,"cnt":37,"p":8.5},
{"t":"Citrate cycle (TCA cycle)","gr":0.400,"cnt":7,"p":7.9},
{"t":"Jak−STAT signaling pathway","gr":0.154,"cnt":28,"p":7.7},
{"t":"Glycolysis / Gluconeogenesis","gr":0.235,"cnt":17,"p":7.6},
{"t":"HIF−1 signaling pathway","gr":0.183,"cnt":23,"p":7.5},
{"t":"Pyruvate metabolism","gr":0.307,"cnt":7,"p":7.4},
{"t":"Fatty acid metabolism","gr":0.245,"cnt":13,"p":7.3},
{"t":"MAPK signaling pathway","gr":0.112,"cnt":40,"p":7.2},
{"t":"Cholinergic synapse","gr":0.169,"cnt":23,"p":7.0},
{"t":"Tryptophan metabolism","gr":0.285,"cnt":6,"p":6.9},
{"t":"Focal adhesion","gr":0.131,"cnt":31,"p":6.8},
{"t":"Apoptosis","gr":0.155,"cnt":26,"p":6.6},
{"t":"Insulin signaling pathway","gr":0.153,"cnt":26,"p":6.5},
{"t":"Estrogen signaling pathway","gr":0.152,"cnt":26,"p":6.4},
{"t":"GnRH signaling pathway","gr":0.182,"cnt":21,"p":6.2},
{"t":"Gap junction","gr":0.181,"cnt":19,"p":6.1},
{"t":"Peroxisome","gr":0.180,"cnt":17,"p":5.9},
{"t":"Non−alcoholic fatty liver disease","gr":0.134,"cnt":23,"p":4.9}
],
"kegF": [
{"t":"PPAR signaling pathway","gr":0.1707,"cnt":10,"p":7.3},
{"t":"Fatty acid metabolism","gr":0.1688,"cnt":9,"p":6.8},
{"t":"Tryptophan metabolism","gr":0.1531,"cnt":7,"p":4.3},
{"t":"Adipocytokine signaling pathway","gr":0.109,"cnt":7,"p":3.6},
{"t":"Cytokine−cytokine receptor interaction","gr":0.0598,"cnt":13,"p":3.5},
{"t":"Pyruvate metabolism","gr":0.1554,"cnt":6,"p":3.6},
{"t":"Fatty acid degradation","gr":0.1505,"cnt":6,"p":3.4},
{"t":"Cytochrome P450","gr":0.1463,"cnt":6,"p":3.5},
{"t":"Fatty acid elongation","gr":0.1592,"cnt":5,"p":3.0},
{"t":"Insulin signaling pathway","gr":0.0663,"cnt":8,"p":2.9},
{"t":"FoxO signaling pathway","gr":0.0651,"cnt":8,"p":2.9},
{"t":"Glycolysis / Gluconeogenesis","gr":0.0941,"cnt":6,"p":2.7},
{"t":"Ferroptosis","gr":0.1173,"cnt":5,"p":2.5},
{"t":"Fatty acid biosynthesis","gr":0.1752,"cnt":3,"p":2.3},
{"t":"Steroid hormone biosynthesis","gr":0.1078,"cnt":5,"p":2.4},
{"t":"Glycerophospholipid metabolism","gr":0.064,"cnt":7,"p":2.3},
{"t":"Apoptosis","gr":0.0556,"cnt":9,"p":2.3},
{"t":"Glutathione metabolism","gr":0.085,"cnt":5,"p":2.2},
{"t":"Arachidonic acid metabolism","gr":0.0815,"cnt":5,"p":2.2},
{"t":"Peroxisome","gr":0.0636,"cnt":7,"p":2.1},
{"t":"Citrate cycle (TCA cycle)","gr":0.1067,"cnt":3,"p":2.0},
{"t":"Autophagy","gr":0.0514,"cnt":7,"p":2.0},
{"t":"Biosynthesis of unsaturated fatty acids","gr":0.0998,"cnt":3,"p":1.9},
{"t":"Cysteine and methionine metabolism","gr":0.0697,"cnt":3,"p":1.8},
{"t":"Lysosome","gr":0.0457,"cnt":6,"p":1.38}
]
},
"spacing": 0,
"resolve": {"scale": {"color": "independent", "size": "independent"}},
"vconcat": [
{"hconcat": [
{"width": 37, "height": 195.73, "data": {"values": [{}]}, "mark": {"type": "point", "opacity": 0}},
{"width": 157, "height": 164, "view": {"stroke": "#555", "strokeWidth": 1},
 "data": {"name": "prof"}, "transform": [{"filter": "datum.s == 'C1'"}],
 "mark": {"type": "line", "color": "#2e3478", "strokeWidth": 1.6},
 "encoding": {
  "x": {"field": "x", "type": "quantitative", "scale": {"domain": [0, 110], "nice": false, "zero": false}, "axis": {"values": [0, 30, 80, 110], "labelExpr": "datum.value == 0 ? '-3.0' : datum.value == 30 ? 'TSS' : datum.value == 80 ? 'TES' : '3.0 kb'", "labelFlush": true, "labelFontSize": 7, "labelColor": "#444", "tickSize": 4, "tickColor": "#444", "domain": false, "grid": false, "labelPadding": 2, "title": "C1", "titleAngle": 0, "titleAlign": "center", "titleBaseline": "alphabetic", "titleX": 78.5, "titleY": -167.3, "titleFontSize": 12, "titleFontWeight": "bold", "titleColor": "black"}},
  "y": {"field": "y", "type": "quantitative", "scale": {"domain": [0, 25.95], "nice": false}, "axis": {"values": [0, 5, 10, 15, 20, 25], "labelFontSize": 7, "labelColor": "#444", "tickSize": 4, "tickColor": "#444", "domain": false, "grid": false, "labelPadding": 2, "title": "A", "titleAngle": 0, "titleAlign": "left", "titleBaseline": "alphabetic", "titleX": -35.3, "titleY": 3.3, "titleFontSize": 17, "titleFontWeight": "bold", "titleColor": "black"}}
 }},
{"width": 13.7, "height": 1, "data": {"values": [{}]}, "mark": {"type": "point", "opacity": 0}},
{"width": 157, "height": 164, "view": {"stroke": "#555", "strokeWidth": 1},
 "data": {"name": "prof"}, "transform": [{"filter": "datum.s == 'C2'"}],
 "mark": {"type": "line", "color": "#2e3478", "strokeWidth": 1.6},
 "encoding": {
  "x": {"field": "x", "type": "quantitative", "scale": {"domain": [0, 110], "nice": false, "zero": false}, "axis": {"values": [0, 30, 80, 110], "labelExpr": "datum.value == 0 ? '-3.0' : datum.value == 30 ? 'TSS' : datum.value == 80 ? 'TES' : '3.0 kb'", "labelFlush": true, "labelFontSize": 7, "labelColor": "#444", "tickSize": 4, "tickColor": "#444", "domain": false, "grid": false, "labelPadding": 2, "title": "C2", "titleAngle": 0, "titleAlign": "center", "titleBaseline": "alphabetic", "titleX": 78.5, "titleY": -167.3, "titleFontSize": 12, "titleFontWeight": "bold", "titleColor": "black"}},
  "y": {"field": "y", "type": "quantitative", "scale": {"domain": [0, 25.95], "nice": false}, "axis": {"values": [0, 5, 10, 15, 20, 25], "labels": false, "tickSize": 4, "tickColor": "#444", "domain": false, "grid": false, "title": null}}
 }},
{"width": 13.7, "height": 1, "data": {"values": [{}]}, "mark": {"type": "point", "opacity": 0}},
{"width": 157, "height": 164, "view": {"stroke": "#555", "strokeWidth": 1},
 "data": {"name": "prof"}, "transform": [{"filter": "datum.s == 'F1'"}],
 "mark": {"type": "line", "color": "#2e3478", "strokeWidth": 1.6},
 "encoding": {
  "x": {"field": "x", "type": "quantitative", "scale": {"domain": [0, 110], "nice": false, "zero": false}, "axis": {"values": [0, 30, 80, 110], "labelExpr": "datum.value == 0 ? '-3.0' : datum.value == 30 ? 'TSS' : datum.value == 80 ? 'TES' : '3.0 kb'", "labelFlush": true, "labelFontSize": 7, "labelColor": "#444", "tickSize": 4, "tickColor": "#444", "domain": false, "grid": false, "labelPadding": 2, "title": "F1", "titleAngle": 0, "titleAlign": "center", "titleBaseline": "alphabetic", "titleX": 78.5, "titleY": -167.3, "titleFontSize": 12, "titleFontWeight": "bold", "titleColor": "black"}},
  "y": {"field": "y", "type": "quantitative", "scale": {"domain": [0, 25.95], "nice": false}, "axis": {"values": [0, 5, 10, 15, 20, 25], "labels": false, "tickSize": 4, "tickColor": "#444", "domain": false, "grid": false, "title": null}}
 }},
{"width": 13.7, "height": 1, "data": {"values": [{}]}, "mark": {"type": "point", "opacity": 0}},
{"width": 157, "height": 164, "view": {"stroke": "#555", "strokeWidth": 1},
 "data": {"name": "prof"}, "transform": [{"filter": "datum.s == 'F2'"}],
 "mark": {"type": "line", "strokeWidth": 1.6},
 "encoding": {
  "x": {"field": "x", "type": "quantitative", "scale": {"domain": [0, 110], "nice": false, "zero": false}, "axis": {"values": [0, 30, 80, 110], "labelExpr": "datum.value == 0 ? '-3.0' : datum.value == 30 ? 'TSS' : datum.value == 80 ? 'TES' : '3.0 kb'", "labelFlush": true, "labelFontSize": 7, "labelColor": "#444", "tickSize": 4, "tickColor": "#444", "domain": false, "grid": false, "labelPadding": 2, "title": "F2", "titleAngle": 0, "titleAlign": "center", "titleBaseline": "alphabetic", "titleX": 78.5, "titleY": -167.3, "titleFontSize": 12, "titleFontWeight": "bold", "titleColor": "black"}},
  "y": {"field": "y", "type": "quantitative", "scale": {"domain": [0, 25.95], "nice": false}, "axis": {"values": [0, 5, 10, 15, 20, 25], "labels": false, "tickSize": 4, "tickColor": "#444", "domain": false, "grid": false, "title": null}},
  "color": {"datum": "genes", "type": "nominal", "scale": {"range": ["#2e3478"]}, "legend": {"orient": "top-right", "offset": 5, "title": null, "symbolType": "stroke", "symbolStrokeWidth": 1.6, "symbolSize": 200, "labelFontSize": 7, "labelColor": "#555", "padding": 0}}
 }}
], "spacing": 0, "bounds": "flush", "resolve": {"scale": {"color": "independent", "size": "independent"}}},
{"hconcat": [
{"width": 48, "height": 231.5, "data": {"values": [{}]}, "mark": {"type": "point", "opacity": 0}},
{"width": 204, "height": 200,
 "layer": [
  {"data": {"name": "heat"}, "mark": {"type": "rect"},
   "encoding": {
    "x": {"field": "c", "type": "nominal", "sort": ["C3","C5","C1","C6","C7","C2","C4","F3","F7","F5","F6","F1","F2","F4"], "axis": {"title": null, "labelAngle": 0, "labelFontSize": 7.8, "labelColor": "#333", "ticks": false, "domain": false, "labelPadding": 2}},
    "y": {"field": "r", "type": "ordinal", "axis": {"labels": false, "ticks": false, "domain": false, "grid": false, "title": "B", "titleAngle": 0, "titleAlign": "left", "titleBaseline": "alphabetic", "titleX": -45.3, "titleY": 6.7, "titleFontSize": 17, "titleFontWeight": "bold", "titleColor": "black"}},
    "color": {"field": "v", "type": "quantitative", "scale": {"domain": [-3.34, -2.21, -1.077, 0.055, 1.19, 2.32, 3.45], "range": ["#4575b4", "#91bfdb", "#e0f3f8", "#ffffbf", "#fee090", "#fc8d59", "#d73027"]}, "legend": {"orient": "right", "offset": 4, "title": null, "direction": "vertical", "gradientLength": 105, "gradientThickness": 7, "gradientStrokeWidth": 0, "values": [-3, -2, -1, 0, 1, 2, 3], "labelFontSize": 7.5, "labelColor": "#333"}}
   }},
  {"data": {"name": "dend"}, "mark": {"type": "rule", "color": "#555", "strokeWidth": 0.9},
   "encoding": {
    "x": {"field": "x", "type": "quantitative", "scale": {"domain": [0, 14], "nice": false, "zero": false}, "axis": null},
    "x2": {"field": "x2"},
    "y": {"field": "y", "type": "quantitative", "scale": {"domain": [0, 50], "nice": false, "zero": false}, "axis": null},
    "y2": {"field": "y2"}
   }},
  {"data": {"values": [{"x": -0.72, "x2": 0, "y": 0, "y2": 50}]}, "mark": {"type": "rect", "color": "black"},
   "encoding": {
    "x": {"field": "x", "type": "quantitative", "scale": {"domain": [0, 14], "nice": false, "zero": false}, "axis": null},
    "x2": {"field": "x2"},
    "y": {"field": "y", "type": "quantitative", "scale": {"domain": [0, 50], "nice": false, "zero": false}, "axis": null},
    "y2": {"field": "y2"}
   }}
 ],
 "resolve": {"scale": {"x": "independent", "y": "independent"}}
},
{"width": 101, "height": 1, "data": {"values": [{}]}, "mark": {"type": "point", "opacity": 0}},
{"width": 142, "height": 203,
 "data": {"values": [{"g": "Up", "n": 940}, {"g": "Down", "n": 1057}]},
 "encoding": {
  "x": {"field": "g", "type": "nominal", "sort": ["Up", "Down"], "scale": {"paddingInner": 0.33, "paddingOuter": 0.33}, "axis": {"labelAngle": 0, "labelFontSize": 12.5, "labelFontWeight": "bold", "labelColor": "black", "ticks": false, "domainColor": "black", "domainWidth": 2, "labelPadding": 3, "title": "C", "titleAngle": 0, "titleAlign": "center", "titleBaseline": "alphabetic", "titleX": 66, "titleY": -194.7, "titleFontSize": 21, "titleFontWeight": "bold", "titleColor": "black"}},
  "y": {"field": "n", "type": "quantitative", "scale": {"domain": [0, 1500], "nice": false}, "axis": {"values": [0, 500, 1000, 1500], "labelExpr": "format(datum.value, ',')", "title": "Differential genes", "titleFontSize": 13, "titleFontWeight": "bold", "titleColor": "black", "titlePadding": 5, "labelFontSize": 11.3, "labelFontWeight": "bold", "labelColor": "black", "tickSize": 6, "tickWidth": 2, "tickColor": "black", "domainColor": "black", "domainWidth": 2, "grid": false, "labelPadding": 2}}
 },
 "layer": [
  {"mark": {"type": "bar"}, "encoding": {"color": {"field": "g", "type": "nominal", "scale": {"domain": ["Up", "Down"], "range": ["#ff0000", "#0000ff"]}, "legend": null}}},
  {"mark": {"type": "text", "baseline": "bottom", "dy": -3, "fontSize": 10.5, "color": "#222"}, "encoding": {"text": {"field": "n", "type": "quantitative", "format": ","}}}
 ]
},
{"width": 76, "height": 1, "data": {"values": [{}]}, "mark": {"type": "point", "opacity": 0}},
{"width": 143, "height": 203,
 "data": {"values": [{"g": "Up", "n": 167}, {"g": "Down", "n": 314}]},
 "encoding": {
  "x": {"field": "g", "type": "nominal", "sort": ["Up", "Down"], "scale": {"paddingInner": 0.344, "paddingOuter": 0.344}, "axis": {"labelAngle": 0, "labelFontSize": 12.5, "labelFontWeight": "bold", "labelColor": "black", "ticks": false, "domainColor": "black", "domainWidth": 2, "labelPadding": 3, "title": "D", "titleAngle": 0, "titleAlign": "center", "titleBaseline": "alphabetic", "titleX": 69, "titleY": -194.7, "titleFontSize": 21, "titleFontWeight": "bold", "titleColor": "black"}},
  "y": {"field": "n", "type": "quantitative", "scale": {"domain": [0, 400], "nice": false}, "axis": {"values": [0, 100, 200, 300, 400], "title": ["Genes based on", "all peaks -RNA analysis"], "titleFontSize": 13, "titleFontWeight": "bold", "titleColor": "black", "titlePadding": 5, "titleLineHeight": 15.6, "labelFontSize": 11.3, "labelFontWeight": "bold", "labelColor": "black", "tickSize": 6, "tickWidth": 2, "tickColor": "black", "domainColor": "black", "domainWidth": 2, "grid": false, "labelPadding": 2}}
 },
 "layer": [
  {"mark": {"type": "bar"}, "encoding": {"color": {"field": "g", "type": "nominal", "scale": {"domain": ["Up", "Down"], "range": ["#ff0000", "#0000ff"]}, "legend": null}}},
  {"mark": {"type": "text", "baseline": "bottom", "dy": -3, "fontSize": 10.5, "color": "#222"}, "encoding": {"text": {"field": "n", "type": "quantitative"}}}
 ]
}
], "spacing": 0, "bounds": "flush", "resolve": {"scale": {"color": "independent", "size": "independent"}}},
{"hconcat": [
{"width": 153, "height": 1, "data": {"values": [{}]}, "mark": {"type": "point", "opacity": 0}},
{"width": 127, "height": 445, "view": {"stroke": "#333", "strokeWidth": 1},
 "data": {"name": "kegE"},
 "mark": {"type": "circle", "opacity": 1},
 "encoding": {
  "y": {"field": "t", "type": "nominal", "sort": null, "scale": {"type": "point", "padding": 0.6}, "axis": {"title": "E", "titleAngle": 0, "titleAlign": "left", "titleBaseline": "alphabetic", "titleX": -150.3, "titleY": -4.7, "titleFontSize": 17, "titleFontWeight": "bold", "titleColor": "black", "labelFontSize": 8.6, "labelColor": "#333", "tickSize": 3, "tickColor": "#333", "domain": false, "grid": true, "gridColor": "#ebebeb", "gridWidth": 0.9, "labelPadding": 2, "labelLimit": 300}},
  "x": {"field": "gr", "type": "quantitative", "scale": {"domain": [0.0975, 0.413], "nice": false, "zero": false}, "axis": {"values": [0.1, 0.15, 0.2, 0.25, 0.3, 0.35, 0.4], "labelExpr": "round(datum.value*100) % 10 == 0 ? format(datum.value, '.1f') : ''", "labelFlush": false, "title": "GeneRatio", "titleFontSize": 12, "titleFontWeight": "normal", "titleColor": "black", "titlePadding": 1.5, "labelFontSize": 8.6, "labelColor": "#333", "tickSize": 3, "tickColor": "#333", "tickOpacity": {"condition": {"test": "round(datum.value*100) % 10 != 0", "value": 0}, "value": 1}, "domain": false, "grid": true, "gridColor": "#ebebeb", "gridWidth": {"condition": {"test": "round(datum.value*100) % 10 != 0", "value": 0.5}, "value": 0.9}, "labelPadding": 2}},
  "size": {"field": "cnt", "type": "quantitative", "scale": {"domain": [6, 61], "range": [5.2, 78.3], "zero": false}, "legend": {"orient": "none", "legendX": 142, "legendY": 243, "direction": "vertical", "title": "Count", "titleFontSize": 8, "titleFontWeight": "normal", "titleColor": "black", "titlePadding": 5, "values": [20, 30, 40, 50], "labelFontSize": 7.7, "labelColor": "#333", "symbolFillColor": "black", "symbolStrokeWidth": 0, "symbolType": "circle", "symbolOpacity": 1, "rowPadding": 6, "labelOffset": 8}},
  "color": {"field": "p", "type": "quantitative", "scale": {"domain": [4.87, 14.67], "range": ["#5a3cff", "#ff0000"], "interpolate": "lab"}, "legend": {"orient": "none", "legendX": 142, "legendY": 131, "direction": "vertical", "title": "−log₁₀(P-value)", "titleFontSize": 8, "titleFontWeight": "normal", "titleColor": "black", "titlePadding": 5, "gradientLength": 75, "gradientThickness": 15, "gradientStrokeWidth": 0, "values": [5, 7.5, 10, 12.5], "format": ".1f", "labelFontSize": 7.7, "labelColor": "#333"}}
 }},
{"width": 241, "height": 1, "data": {"values": [{}]}, "mark": {"type": "point", "opacity": 0}},
{"width": 124, "height": 442, "view": {"stroke": "#333", "strokeWidth": 1},
 "data": {"name": "kegF"},
 "mark": {"type": "circle", "opacity": 1},
 "encoding": {
  "y": {"field": "t", "type": "nominal", "sort": null, "scale": {"type": "point", "padding": 0.6}, "axis": {"title": "F", "titleAngle": 0, "titleAlign": "left", "titleBaseline": "alphabetic", "titleX": -103, "titleY": -3.7, "titleFontSize": 17, "titleFontWeight": "bold", "titleColor": "black", "labelFontSize": 8.6, "labelColor": "#333", "tickSize": 3, "tickColor": "#333", "domain": false, "grid": true, "gridColor": "#ebebeb", "gridWidth": 0.9, "labelPadding": 2, "labelLimit": 300}},
  "x": {"field": "gr", "type": "quantitative", "scale": {"domain": [0.0392, 0.1817], "nice": false, "zero": false}, "axis": {"values": [0.04, 0.06, 0.08, 0.1, 0.12, 0.14, 0.16, 0.18], "labelExpr": "round(datum.value*100) % 4 == 0 ? format(datum.value, '.2f') : ''", "labelFlush": false, "title": "GeneRatio", "titleFontSize": 12, "titleFontWeight": "normal", "titleColor": "black", "titlePadding": 1.5, "labelFontSize": 8.6, "labelColor": "#333", "tickSize": 3, "tickColor": "#333", "tickOpacity": {"condition": {"test": "round(datum.value*100) % 4 != 0", "value": 0}, "value": 1}, "domain": false, "grid": true, "gridColor": "#ebebeb", "gridWidth": {"condition": {"test": "round(datum.value*100) % 4 != 0", "value": 0.5}, "value": 0.9}, "labelPadding": 2}},
  "size": {"field": "cnt", "type": "quantitative", "scale": {"domain": [3, 13], "range": [5.4, 88.4], "zero": false}, "legend": {"orient": "none", "legendX": 140, "legendY": 251, "direction": "vertical", "title": "Count", "titleFontSize": 8, "titleFontWeight": "normal", "titleColor": "black", "titlePadding": 5, "values": [5, 7.5, 10], "format": ".1f", "labelFontSize": 7.7, "labelColor": "#333", "symbolFillColor": "black", "symbolStrokeWidth": 0, "symbolType": "circle", "symbolOpacity": 1, "rowPadding": 6, "labelOffset": 8}},
  "color": {"field": "p", "type": "quantitative", "scale": {"domain": [1.38, 7.35], "range": ["#5a3cff", "#ff0000"], "interpolate": "lab"}, "legend": {"orient": "none", "legendX": 138, "legendY": 143, "direction": "vertical", "title": "−log₁₀(P-value)", "titleFontSize": 8, "titleFontWeight": "normal", "titleColor": "black", "titlePadding": 5, "gradientLength": 74, "gradientThickness": 15, "gradientStrokeWidth": 0, "values": [2, 3, 4, 5, 6, 7], "format": "d", "labelFontSize": 7.7, "labelColor": "#333"}}
 }}
], "spacing": 0, "bounds": "flush", "resolve": {"scale": {"color": "independent", "size": "independent"}}}
]
}
